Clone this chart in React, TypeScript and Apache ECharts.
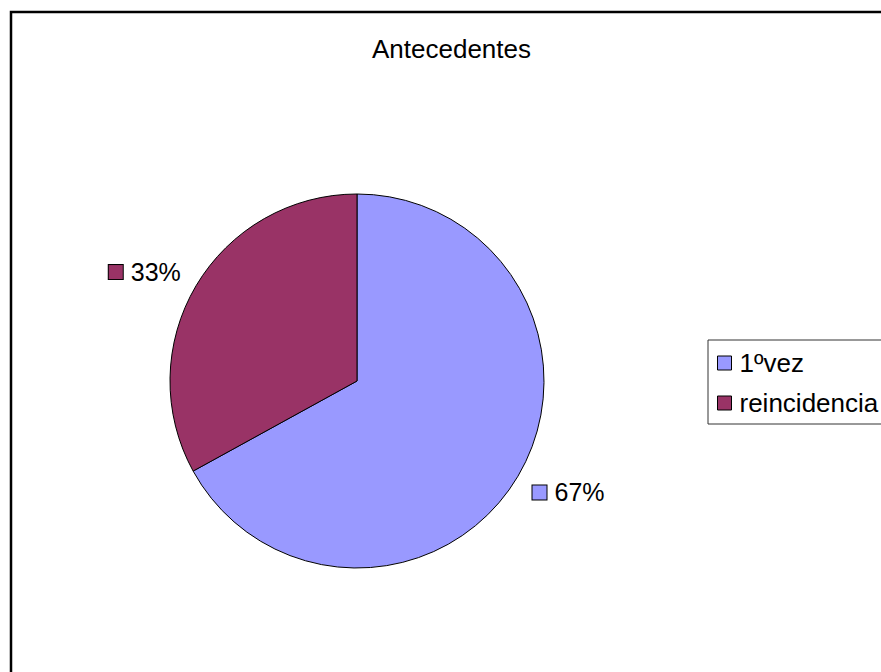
import React, { useEffect, useRef } from "react";
import * as echarts from "echarts";

const titleText = "Antecedentes";
const categories = ["1ºvez", "reincidencia"];
const values = [67, 33];
const colors = ["#9999FF", "#993366"];

export default function App() {
  const ref = useRef<HTMLDivElement>(null);
  useEffect(() => {
    if (!ref.current) return;
    const chart = echarts.init(ref.current, null, { renderer: "svg" });
    const font = "'Liberation Sans', Arial, sans-serif";
    const lineLens = [32, 27];
    const lineLens2 = [-18, -13];
    chart.setOption({
      animation: false,
      backgroundColor: "#fff",
      title: {
        text: titleText,
        left: 372,
        top: 36,
        padding: 0,
        textStyle: { fontFamily: font, fontSize: 26, fontWeight: "normal", color: "#000" },
      },
      legend: {
        orient: "vertical",
        left: 708,
        top: 340,
        padding: [10, 20, 8, 9],
        borderColor: "#333",
        borderWidth: 1,
        itemWidth: 14,
        itemHeight: 14,
        itemGap: 14,
        icon: "rect",
        itemStyle: { borderColor: "#000", borderWidth: 1 },
        textStyle: { fontFamily: font, fontSize: 26, color: "#000", padding: [0, 0, 0, 3] },
        data: categories,
      },
      graphic: [
        {
          type: "polyline",
          shape: { points: [[11, 700], [11, 12], [900, 12]] },
          style: { fill: "none", stroke: "#000", lineWidth: 2.5 },
          silent: true,
        },
      ],
      series: [
        {
          type: "pie",
          center: [357, 381],
          radius: 187,
          startAngle: 90,
          clockwise: true,
          avoidLabelOverlap: false,
          itemStyle: { borderColor: "#000", borderWidth: 1 },
          emphasis: { disabled: true },
          data: categories.map((name, i) => ({
            name,
            value: values[i],
            itemStyle: { color: colors[i] },
            labelLine: { show: false, length: lineLens[i], length2: lineLens2[i] },
          })),
          label: {
            show: true,
            position: "outside",
            distanceToLabelLine: 5,
            formatter: (p: any) => `{s${p.dataIndex}|}{t|${Math.round(p.percent)}%}`,
            rich: {
              s0: { width: 14, height: 14, backgroundColor: colors[0], borderColor: "#000", borderWidth: 1 },
              s1: { width: 14, height: 14, backgroundColor: colors[1], borderColor: "#000", borderWidth: 1 },
              t: { fontFamily: font, fontSize: 25, color: "#000", padding: [0, 0, 0, 8] },
            },
          },
        },
      ],
    });
    return () => chart.dispose();
  }, []);
  return (
    <div
      ref={ref}
      style={{ position: "fixed", left: 0, top: 0, width: 881, height: 672 }}
    />
  );
}
